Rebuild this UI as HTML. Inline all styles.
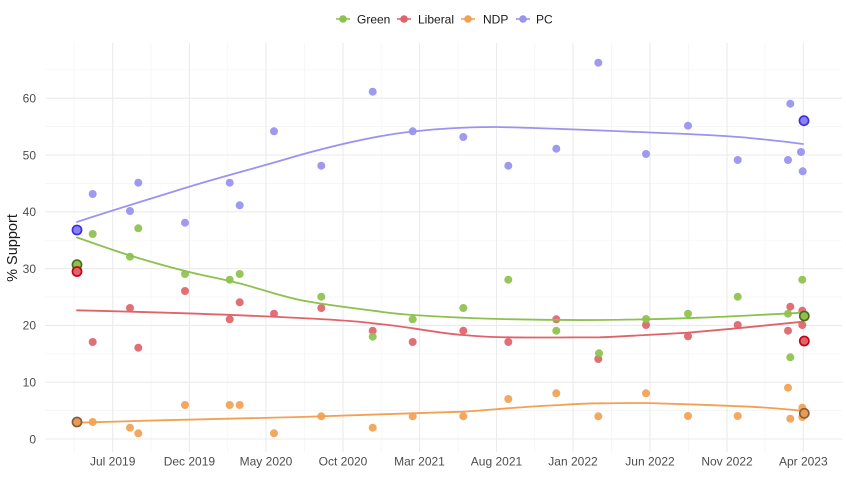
<!DOCTYPE html>
<html>
<head>
<meta charset="utf-8">
<style>
html,body{margin:0;padding:0;background:#fff;}
svg{display:block;}
text{font-family:"Liberation Sans",Arial,sans-serif;}
</style>
</head>
<body>
<svg width="846" height="487" viewBox="0 0 846 487" xmlns="http://www.w3.org/2000/svg">
<rect width="846" height="487" fill="#fff"/>
<!-- minor grid -->
<g stroke="#f4f4f4" stroke-width="0.7">
<line x1="45" x2="842" y1="410.6" y2="410.6"/>
<line x1="45" x2="842" y1="353.8" y2="353.8"/>
<line x1="45" x2="842" y1="297" y2="297"/>
<line x1="45" x2="842" y1="240.2" y2="240.2"/>
<line x1="45" x2="842" y1="183.4" y2="183.4"/>
<line x1="45" x2="842" y1="126.6" y2="126.6"/>
<line x1="45" x2="842" y1="69.8" y2="69.8"/>
<line y1="43" y2="452" x1="74" x2="74"/>
<line y1="43" y2="452" x1="151" x2="151"/>
<line y1="43" y2="452" x1="227.7" x2="227.7"/>
<line y1="43" y2="452" x1="304.5" x2="304.5"/>
<line y1="43" y2="452" x1="381.2" x2="381.2"/>
<line y1="43" y2="452" x1="458" x2="458"/>
<line y1="43" y2="452" x1="534.7" x2="534.7"/>
<line y1="43" y2="452" x1="611.5" x2="611.5"/>
<line y1="43" y2="452" x1="688.5" x2="688.5"/>
<line y1="43" y2="452" x1="765" x2="765"/>
</g>
<!-- major grid -->
<g stroke="#ebebeb" stroke-width="1.1">
<line x1="45" x2="842" y1="439" y2="439"/>
<line x1="45" x2="842" y1="382.2" y2="382.2"/>
<line x1="45" x2="842" y1="325.4" y2="325.4"/>
<line x1="45" x2="842" y1="268.6" y2="268.6"/>
<line x1="45" x2="842" y1="211.8" y2="211.8"/>
<line x1="45" x2="842" y1="155" y2="155"/>
<line x1="45" x2="842" y1="98.2" y2="98.2"/>
<line y1="43" y2="452" x1="112.7" x2="112.7"/>
<line y1="43" y2="452" x1="189.4" x2="189.4"/>
<line y1="43" y2="452" x1="266" x2="266"/>
<line y1="43" y2="452" x1="343" x2="343"/>
<line y1="43" y2="452" x1="419.5" x2="419.5"/>
<line y1="43" y2="452" x1="496.5" x2="496.5"/>
<line y1="43" y2="452" x1="573" x2="573"/>
<line y1="43" y2="452" x1="650" x2="650"/>
<line y1="43" y2="452" x1="727" x2="727"/>
<line y1="43" y2="452" x1="803.3" x2="803.3"/>
</g>
<!-- y tick labels -->
<g font-size="12" fill="#4d4d4d" text-anchor="end">
<text x="36" y="443.3">0</text>
<text x="36" y="386.5">10</text>
<text x="36" y="329.7">20</text>
<text x="36" y="272.9">30</text>
<text x="36" y="216.1">40</text>
<text x="36" y="159.3">50</text>
<text x="36" y="102.5">60</text>
</g>
<!-- x tick labels -->
<g font-size="12" fill="#4d4d4d" text-anchor="middle">
<text x="112.7" y="465.5">Jul 2019</text>
<text x="189.4" y="465.5">Dec 2019</text>
<text x="266" y="465.5">May 2020</text>
<text x="343" y="465.5">Oct 2020</text>
<text x="419.5" y="465.5">Mar 2021</text>
<text x="496.5" y="465.5">Aug 2021</text>
<text x="573" y="465.5">Jan 2022</text>
<text x="650" y="465.5">Jun 2022</text>
<text x="727" y="465.5">Nov 2022</text>
<text x="803.3" y="465.5">Apr 2023</text>
</g>
<text transform="translate(17,248) rotate(-90)" font-size="14.5" fill="#1a1a1a" text-anchor="middle">% Support</text>

<!-- legend -->
<g font-size="12" fill="#1a1a1a">
<line x1="336" x2="350" y1="19" y2="19" stroke="#8dc14d" stroke-width="1.6"/><circle cx="343" cy="19" r="3.8" fill="#8dc14d"/>
<text x="357" y="23.3">Green</text>
<line x1="397" x2="411" y1="19" y2="19" stroke="#e0636a" stroke-width="1.6"/><circle cx="404" cy="19" r="3.8" fill="#e0636a"/>
<text x="418" y="23.3">Liberal</text>
<line x1="461" x2="475" y1="19" y2="19" stroke="#f2a153" stroke-width="1.6"/><circle cx="468" cy="19" r="3.8" fill="#f2a153"/>
<text x="483" y="23.3">NDP</text>
<line x1="516" x2="530" y1="19" y2="19" stroke="#9b93f0" stroke-width="1.6"/><circle cx="523" cy="19" r="3.8" fill="#9b93f0"/>
<text x="536" y="23.3">PC</text>
</g>

<!-- NDP points -->
<g fill="#f2a153" fill-opacity="0.92">
<circle cx="92.7" cy="422" r="4"/>
<circle cx="130" cy="427.7" r="4"/>
<circle cx="138.3" cy="433.3" r="4"/>
<circle cx="185" cy="405" r="4"/>
<circle cx="229.7" cy="405" r="4"/>
<circle cx="239.7" cy="405" r="4"/>
<circle cx="274" cy="433.3" r="4"/>
<circle cx="321.3" cy="416.3" r="4"/>
<circle cx="372.7" cy="427.7" r="4"/>
<circle cx="412.7" cy="416.3" r="4"/>
<circle cx="463.3" cy="416.3" r="4"/>
<circle cx="508.3" cy="399" r="4"/>
<circle cx="556.3" cy="393.3" r="4"/>
<circle cx="598.3" cy="416.3" r="4"/>
<circle cx="646" cy="393.3" r="4"/>
<circle cx="688" cy="416" r="4"/>
<circle cx="737.7" cy="416" r="4"/>
<circle cx="788" cy="387.7" r="4"/>
<circle cx="790.3" cy="418.7" r="4"/>
<circle cx="802.3" cy="407.7" r="4"/>
<circle cx="802.3" cy="417" r="4"/>
</g>
<!-- Liberal points -->
<g fill="#e0636a" fill-opacity="0.92">
<circle cx="92.7" cy="342" r="4"/>
<circle cx="130" cy="308" r="4"/>
<circle cx="138.3" cy="347.7" r="4"/>
<circle cx="185" cy="291" r="4"/>
<circle cx="229.7" cy="319.3" r="4"/>
<circle cx="239.7" cy="302.3" r="4"/>
<circle cx="274" cy="313.7" r="4"/>
<circle cx="321.3" cy="308" r="4"/>
<circle cx="372.7" cy="330.7" r="4"/>
<circle cx="412.7" cy="342" r="4"/>
<circle cx="463.3" cy="330.7" r="4"/>
<circle cx="508.3" cy="342" r="4"/>
<circle cx="556.3" cy="319.3" r="4"/>
<circle cx="598.3" cy="359" r="4"/>
<circle cx="646" cy="325" r="4"/>
<circle cx="688" cy="336.3" r="4"/>
<circle cx="737.7" cy="325" r="4"/>
<circle cx="788" cy="330.7" r="4"/>
<circle cx="790.3" cy="306.7" r="4"/>
<circle cx="802.3" cy="310.7" r="4"/>
<circle cx="802.3" cy="325" r="4"/>
</g>
<!-- Green points -->
<g fill="#8dc14d" fill-opacity="0.92">
<circle cx="92.7" cy="234" r="4"/>
<circle cx="130" cy="256.7" r="4"/>
<circle cx="138.3" cy="228.3" r="4"/>
<circle cx="185" cy="274" r="4"/>
<circle cx="229.7" cy="279.7" r="4"/>
<circle cx="239.7" cy="274" r="4"/>
<circle cx="321.3" cy="296.7" r="4"/>
<circle cx="372.7" cy="336.7" r="4"/>
<circle cx="412.7" cy="319.3" r="4"/>
<circle cx="463.3" cy="308" r="4"/>
<circle cx="508.3" cy="279.7" r="4"/>
<circle cx="556.3" cy="330.7" r="4"/>
<circle cx="599" cy="353.3" r="4"/>
<circle cx="646" cy="319" r="4"/>
<circle cx="688" cy="313.7" r="4"/>
<circle cx="737.7" cy="296.7" r="4"/>
<circle cx="788" cy="313.7" r="4"/>
<circle cx="790.3" cy="357.3" r="4"/>
<circle cx="802.3" cy="279.7" r="4"/>
</g>
<!-- PC points -->
<g fill="#9b93f0" fill-opacity="0.95">
<circle cx="92.7" cy="194" r="4"/>
<circle cx="130" cy="211" r="4"/>
<circle cx="138.3" cy="182.7" r="4"/>
<circle cx="185" cy="222.7" r="4"/>
<circle cx="229.7" cy="182.7" r="4"/>
<circle cx="239.7" cy="205.3" r="4"/>
<circle cx="274" cy="131.3" r="4"/>
<circle cx="321.3" cy="165.7" r="4"/>
<circle cx="372.7" cy="91.7" r="4"/>
<circle cx="412.7" cy="131.3" r="4"/>
<circle cx="463.3" cy="137" r="4"/>
<circle cx="508.3" cy="165.7" r="4"/>
<circle cx="556.3" cy="148.7" r="4"/>
<circle cx="598.3" cy="62.7" r="4"/>
<circle cx="646" cy="154" r="4"/>
<circle cx="688" cy="125.7" r="4"/>
<circle cx="737.7" cy="160" r="4"/>
<circle cx="788" cy="160" r="4"/>
<circle cx="790.3" cy="103.7" r="4"/>
<circle cx="801" cy="152" r="4"/>
<circle cx="802.7" cy="171.3" r="4"/>
</g>

<!-- smooth lines -->
<g fill="none" stroke-width="1.8" stroke-linecap="round">
<path stroke="#9b93f0" d="M77,222 C110,211 150,199 185,188 C220,177 260,167 300,155 C340,144 380,135 413,131.5 C440,128.5 470,127 495,127 C530,127.5 590,130 650,132.5 C690,134 720,135.5 745,137.5 C770,140 790,142 803,144"/>
<path stroke="#8dc14d" d="M77,237.5 C94.7,243.5 112,249.9 130,255.5 C148,261.1 166.7,266.3 185,271 C203.3,275.7 220.8,278.7 240,283.5 C259.2,288.3 277.8,295.5 300,300 C322.2,304.5 354.2,308.2 373,310.7 C391.8,313.2 391.8,313.6 413,315 C434.2,316.4 468.8,318.2 500,319 C531.2,319.8 566.7,320.2 600,320 C633.3,319.8 666.2,318.9 700,317.7 C733.8,316.5 768.7,314.4 803,312.7"/>
<path stroke="#e0636a" d="M77,310.3 C150,312 240,315 300,318 C330,319.5 360,321.5 373,323.3 C390,325 400,326.5 413,328.3 C430,331 450,334 463,335 C480,336.5 495,337.3 508,337.3 C540,337.8 575,337.3 600,337.3 C620,336.7 635,335.5 646,335 C665,334 680,333.2 688,332.7 C710,330.8 730,329 737,328.3 C765,325.5 785,323.5 803,321.7"/>
<path stroke="#f2a153" d="M77,422.7 C150,420.5 240,418.2 300,417 C350,415.5 390,414.2 412,413.3 C440,412.5 455,412 463,411.7 C480,410.7 495,409.3 508,408.3 C530,406.7 545,405.5 560,405 C575,404 590,403.4 600,403.3 C620,403 635,402.9 646,403 C670,403.6 690,404.3 700,404.7 C720,405.5 740,406.2 750,406.7 C775,408 790,409.5 803,411"/>
</g>

<!-- highlighted points -->
<circle cx="77" cy="230" r="4.6" fill="#8a82f2" stroke="#3a2de0" stroke-width="1.6"/>
<circle cx="77" cy="264.7" r="4.6" fill="#8dc14d" stroke="#4b6b1c" stroke-width="1.6"/>
<circle cx="77" cy="271.5" r="4.6" fill="#e0636a" stroke="#c40012" stroke-width="1.6"/>
<circle cx="77" cy="422" r="4.6" fill="#e89a58" stroke="#8a5a30" stroke-width="1.6"/>
<circle cx="804" cy="120.7" r="4.6" fill="#8a82f2" stroke="#3a2de0" stroke-width="1.6"/>
<circle cx="804.3" cy="316" r="4.6" fill="#8dc14d" stroke="#4b6b1c" stroke-width="1.6"/>
<circle cx="804.3" cy="341" r="4.6" fill="#e0636a" stroke="#c40012" stroke-width="1.6"/>
<circle cx="804.3" cy="413.3" r="4.6" fill="#e89a58" stroke="#8a5a30" stroke-width="1.6"/>
</svg>
</body>
</html>
